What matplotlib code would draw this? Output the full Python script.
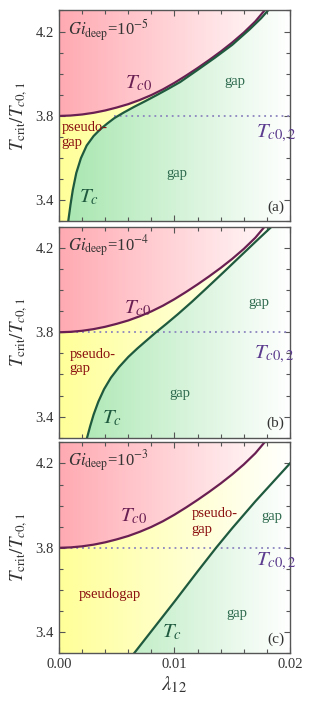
import numpy as np
import matplotlib.pyplot as plt
from matplotlib.patches import Polygon
from matplotlib.colors import LinearSegmentedColormap
from matplotlib.ticker import MultipleLocator

plt.rcParams['font.family'] = ['Liberation Serif', 'DejaVu Serif']
plt.rcParams['mathtext.fontset'] = 'stix'

# T_c0 boundary (same in all three panels)
tc0_lam = [0.000, 0.001, 0.002, 0.003, 0.004, 0.005, 0.006, 0.007, 0.008, 0.009,
           0.010, 0.011, 0.012, 0.013, 0.014, 0.015, 0.016, 0.017, 0.0178]
tc0_T = [3.800, 3.802, 3.807, 3.815, 3.826, 3.840, 3.856, 3.876, 3.899, 3.926,
         3.957, 3.991, 4.027, 4.065, 4.105, 4.148, 4.195, 4.248, 4.300]

# T_c boundary for Gi = 1e-5, 1e-4, 1e-3
tc_lam_a = [0.0008, 0.0010, 0.0012, 0.0015, 0.0019, 0.0024, 0.0030, 0.0036, 0.0042,
            0.0048, 0.0056, 0.0065, 0.0075, 0.0085, 0.0095, 0.0105, 0.0120, 0.0135,
            0.0150, 0.0165, 0.0175, 0.0181]
tc_T_a = [3.300, 3.380, 3.450, 3.530, 3.600, 3.660, 3.705, 3.738, 3.765,
          3.790, 3.816, 3.843, 3.871, 3.900, 3.930, 3.961, 4.018, 4.076,
          4.137, 4.210, 4.263, 4.300]

tc_lam_b = [0.00243, 0.0027, 0.0030, 0.0034, 0.0039, 0.0045, 0.0052, 0.0060, 0.0068,
            0.0076, 0.0084, 0.0093, 0.0103, 0.0115, 0.0128, 0.0142, 0.0156, 0.0170, 0.0184]
tc_T_b = [3.300, 3.355, 3.410, 3.470, 3.530, 3.585, 3.635, 3.683, 3.724,
          3.762, 3.800, 3.840, 3.886, 3.944, 4.010, 4.082, 4.155, 4.228, 4.300]

tc_lam_c = [0.0065, 0.0080, 0.0100, 0.0120, 0.0136, 0.0150, 0.0170, 0.0200]
tc_T_c = [3.300, 3.405, 3.545, 3.688, 3.800, 3.893, 4.020, 4.200]

tc_lam = [tc_lam_a, tc_lam_b, tc_lam_c]
tc_T = [tc_T_a, tc_T_b, tc_T_c]

gi_exp = ['-5', '-4', '-3']
panel_tags = ['(a)', '(b)', '(c)']
tc02 = 3.8
dot_start = [0.0048, 0.0, 0.0]

# label positions (lambda, T) per panel
pos_gi = [(0.0008, 4.180), (0.0008, 4.186), (0.0008, 4.188)]
pos_tc0 = [(0.0057, 3.929), (0.0056, 3.889), (0.0053, 3.924)]
pos_gap_up = [(0.0152, 3.945), (0.0173, 3.924), (0.0184, 3.932)]
pos_gap_lo = [(0.0102, 3.510), (0.0105, 3.494), (0.0154, 3.473)]
pos_tc = [(0.0017, 3.389), (0.0037, 3.368), (0.0089, 3.376)]
pos_tc02 = [(0.0171, 3.700), (0.0169, 3.676), (0.0171, 3.718)]
pos_pseudo = [(0.0002, 3.731), (0.0009, 3.679), (0.0115, 3.945)]
pos_pseudo_gap = [(0.0002, 3.657), (0.0009, 3.612), (0.0115, 3.869)]

red = '#ffaab2'
yellow = '#ffff99'
green = '#a6e6ae'
c_tc0 = '#6a1f52'
c_tc = '#1f5a3f'

xmin, xmax, ymin, ymax = 0.0, 0.02, 3.3, 4.3


def grad_fill(ax, color, verts, z):
    cmap = LinearSegmentedColormap.from_list('g', [color, 'white'])
    im = ax.imshow(np.linspace(0, 1, 256).reshape(1, -1), cmap=cmap,
                   extent=[xmin, xmax, ymin, ymax], aspect='auto',
                   interpolation='bilinear', zorder=z)
    if verts is not None:
        patch = Polygon(verts, closed=True, transform=ax.transData,
                        facecolor='none', edgecolor='none')
        ax.add_patch(patch)
        im.set_clip_path(patch)


fig = plt.figure(figsize=(3.12, 7.06), dpi=100)
bottoms = [0.6863, 0.3799, 0.0746]

for i in range(3):
    ax = fig.add_axes([0.189, bottoms[i], 0.7404, 0.2989])

    # pseudogap everywhere, then normal state above T_c0, gap below T_c
    grad_fill(ax, yellow, None, 0)
    red_verts = list(zip(tc0_lam, tc0_T)) + [(tc0_lam[-1], 10), (-1, 10), (-1, tc0_T[0])]
    grad_fill(ax, red, red_verts, 1)
    green_verts = list(zip(tc_lam[i], tc_T[i])) + [(tc_lam[i][-1], 10), (1, 10), (1, -10),
                                                   (tc_lam[i][0], -10)]
    grad_fill(ax, green, green_verts, 1)

    ax.plot([dot_start[i], xmax], [tc02, tc02], color='#8c84bf', lw=1.3,
            ls=(0, (1, 2.2)), zorder=3)
    ax.plot(tc0_lam, tc0_T, color=c_tc0, lw=1.6, zorder=4)
    ax.plot(tc_lam[i], tc_T[i], color=c_tc, lw=1.6, zorder=4)

    ax.set_xlim(xmin, xmax)
    ax.set_ylim(ymin, ymax)
    ax.xaxis.set_major_locator(MultipleLocator(0.01))
    ax.xaxis.set_minor_locator(MultipleLocator(0.002))
    ax.yaxis.set_major_locator(MultipleLocator(0.4))
    ax.yaxis.set_minor_locator(MultipleLocator(0.1))
    ax.set_yticks([3.4, 3.8, 4.2])
    ax.set_yticklabels(['3.4', '3.8', '4.2'])
    ax.tick_params(which='both', direction='in', top=True, right=True,
                   color='#555555', labelcolor='#333333', labelsize=10.5, width=0.8)
    ax.tick_params(which='major', length=4)
    ax.tick_params(which='minor', length=3)
    for s in ax.spines.values():
        s.set_color('#555555')
        s.set_linewidth(1.0)
        s.set_zorder(6)
    if i < 2:
        ax.set_xticklabels([])
    else:
        ax.set_xticks([0.0, 0.01, 0.02])
        ax.set_xticklabels(['0.00', '0.01', '0.02'])
        ax.set_xlabel(r'$\lambda_{12}$', fontsize=15, color='#333333')
        ax.xaxis.set_label_coords(0.5, -0.10)

    ax.set_ylabel(r'$T_{\rm crit}/T_{c0,1}$', fontsize=13.5, color='#333333')
    ax.yaxis.set_label_coords(-0.125, 0.5)

    ax.text(*pos_gi[i], r'$Gi_{\rm deep}$=10$^{' + gi_exp[i] + '}$', fontsize=12,
            color='#333333', ha='left', va='baseline', zorder=7)
    ax.text(*pos_tc0[i], r'$T_{c0}$', fontsize=15, color=c_tc0, ha='left',
            va='baseline', zorder=7)
    ax.text(*pos_tc[i], r'$T_c$', fontsize=15, color=c_tc, ha='left',
            va='baseline', zorder=7)
    ax.text(*pos_tc02[i], r'$T_{c0,2}$', fontsize=15, color='#5c3c8e', ha='left',
            va='baseline', zorder=7)
    ax.text(*pos_gap_up[i], 'gap', fontsize=10.5, color='#2e6a4e', ha='center',
            va='baseline', zorder=7)
    ax.text(*pos_gap_lo[i], 'gap', fontsize=10.5, color='#2e6a4e', ha='center',
            va='baseline', zorder=7)
    ax.text(*pos_pseudo[i], 'pseudo-', fontsize=10.5, color='#8b1010', ha='left',
            va='baseline', zorder=7)
    ax.text(*pos_pseudo_gap[i], 'gap', fontsize=10.5, color='#8b1010', ha='left',
            va='baseline', zorder=7)
    if i == 2:
        ax.text(0.00439, 3.561, 'pseudogap', fontsize=10.5, color='#8b1010',
                ha='center', va='baseline', zorder=7)
    ax.text(0.975, 0.035, panel_tags[i], transform=ax.transAxes, fontsize=11,
            color='#333333', ha='right', va='bottom', zorder=7)

fig.savefig('out.png', dpi=100)
